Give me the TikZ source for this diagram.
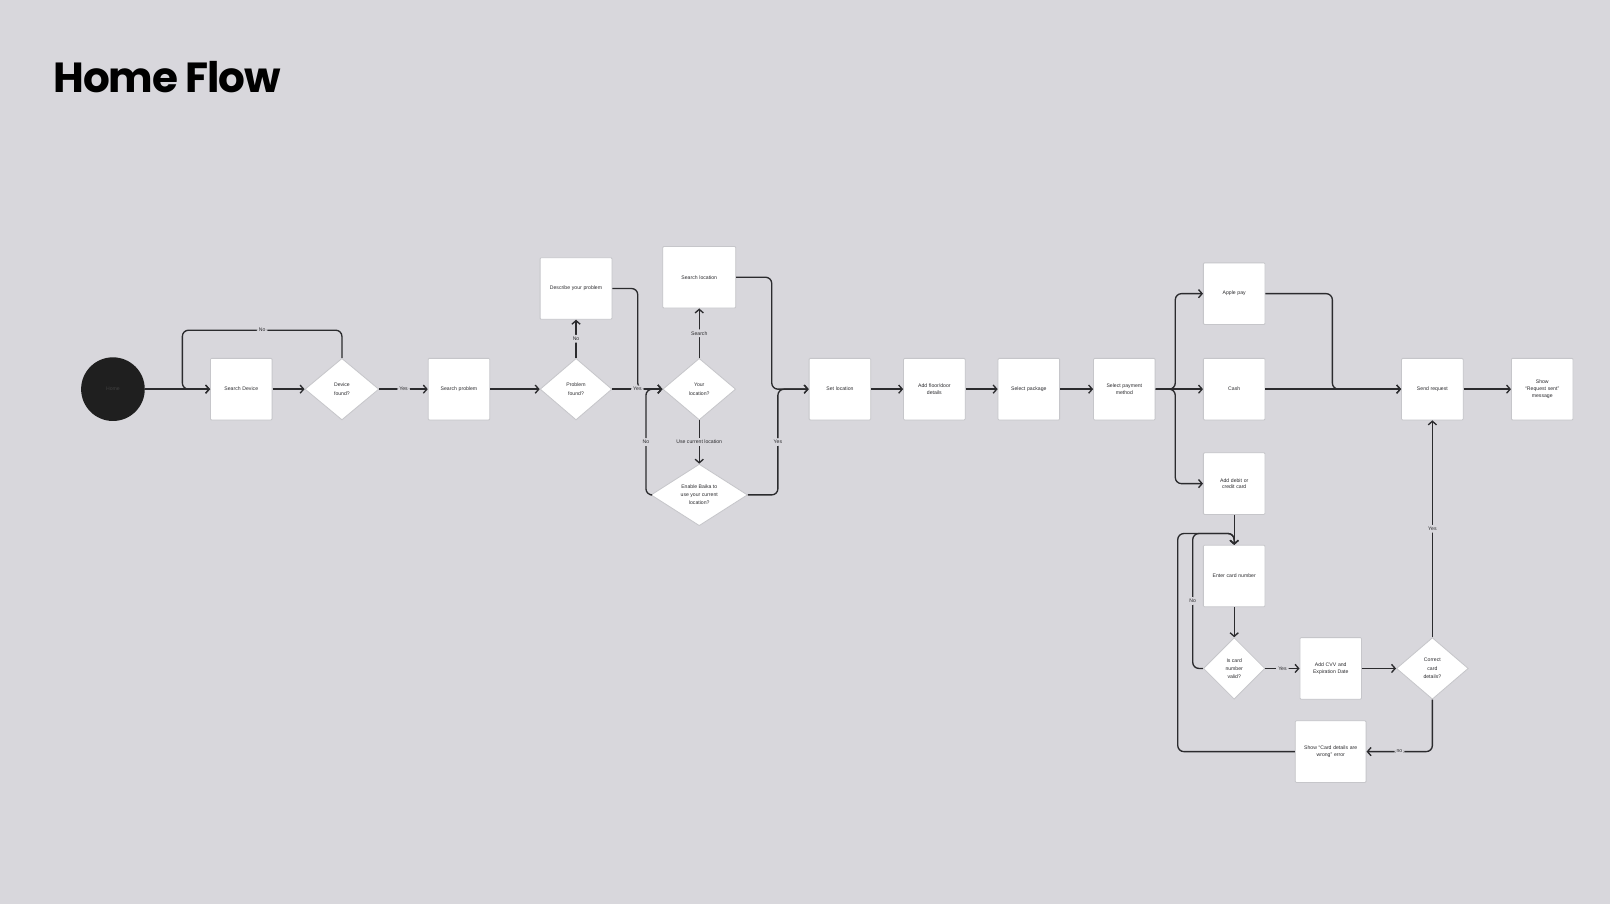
\documentclass[tikz,border=0pt]{standalone}
\usepackage{fontspec}
\setmainfont{Liberation Sans}
\newfontfamily\titlefont[LetterSpace=-3]{Poppins}
\usepackage{tikz}
\usetikzlibrary{shapes.geometric,arrows.meta}
\definecolor{bgc}{HTML}{D8D7DC}
\definecolor{linec}{HTML}{2B2B2E}
\definecolor{edgec}{HTML}{C6C6CA}
\tikzset{node distance=92pt,
  box/.style={draw=edgec, fill=white, line width=0.8pt, rounded corners=1pt,
    minimum width=60pt, minimum height=60pt, text width=52pt, align=center,
    inner sep=0pt, font=\fontsize{5}{6.5}\selectfont, text=linec},
  dia/.style={diamond, aspect=1, draw=edgec, fill=white, line width=0.8pt,
    minimum width=72pt, minimum height=60pt, inner sep=0pt, align=center,
    font=\fontsize{5}{8}\selectfont, text=linec},
  lbl/.style={fill=bgc, inner sep=2pt, font=\fontsize{5}{6}\selectfont, text=linec},
  flow/.style={draw=linec, line width=1.3pt, rounded corners=6pt,
    -{Straight Barb[length=3.5pt, width=8pt]}}}

\begin{document}
\begin{tikzpicture}[x=1pt, y=-1pt]
   \fill[bgc] (0,0) rectangle (1568,880);
   \node(title) [anchor=west, inner sep=0pt, font=\titlefont\bfseries\fontsize{41}{47}\selectfont] at (52,75) {Home Flow};
   % main row
   \node(1) [circle, fill=black!88, minimum size=62pt, text=black!75, font=\fontsize{5}{6}\selectfont] at (110,379) {Home};
   \node(2) [box, right of=1, node distance=125pt] {Search Device};
   \node(3) [dia, right of=2, node distance=98pt] {Device\\found?};
   \node(4) [box, right of=3, node distance=114pt] {Search problem};
   \node(5) [dia, right of=4, node distance=114pt, minimum width=70pt] {Problem\\found?};
   \node(6) [box, above of=5, node distance=98pt, minimum width=70pt, text width=64pt] {Describe your problem};
   \node(7) [dia, right of=5, node distance=120pt, minimum width=71pt] {Your\\location?};
   \node(8) [box, above of=7, node distance=109pt, minimum width=71pt] {Search location};
   \node(9) [dia, below of=7, node distance=103pt, minimum width=94pt] {Enable Baika to\\use your current\\location?};
   \node(10) [box, right of=7, node distance=137pt] {Set location};
   \node(11) [box, right of=10] {Add floor/door\\details};
   \node(12) [box, right of=11] {Select package};
   \node(13) [box, right of=12, node distance=93pt] {Select payment\\method};
   % payment
   \node(14) [box, right of=13, node distance=107pt] {Cash};
   \node(15) [box, above of=14, node distance=93pt] {Apple pay};
   \node(16) [box, below of=14, node distance=92pt] {Add debit or\\credit card};
   \node(17) [box, right of=14, node distance=193pt] {Send request};
   \node(18) [box, right of=17, node distance=107pt] {Show\\``Request sent''\\message};
   % card
   \node(19) [box, below of=16, node distance=90pt] {Enter card number};
   \node(20) [dia, below of=19, node distance=90pt, minimum width=60pt] {Is card\\number\\valid?};
   \node(21) [box, right of=20, node distance=94pt] {Add CVV and\\Expiration Date};
   \node(22) [dia, right of=21, node distance=99pt, minimum width=70pt] {Correct\\card\\details?};
   \node(23) [box, below of=21, node distance=81pt, minimum width=69pt, text width=64pt] {Show ``Card details are\\wrong'' error};

   \draw[flow] (1) -- (2);
   \draw[flow] (3.north) -- ++(0,-27) -| node[lbl, pos=.25] {No} ([xshift=-27pt]2.west) -- (2.west);
   \draw[flow] (2) -- (3);
   \draw[flow] (3) -- node[lbl] {Yes} (4);
   \draw[flow] (4) -- (5);
   \draw[flow] (5) -- node[lbl] {No} (6);
   \draw[flow] (6.east) -| ([xshift=-24pt]7.west) -- (7.west);
   \draw[flow] (9.west) -| node[lbl, pos=.75] {No} ([xshift=-16pt]7.west) -- (7.west);
   \draw[flow] (5) -- node[lbl] {Yes} (7);
   \draw[flow] (7) -- node[lbl] {Search} (8);
   \draw[flow] (7) -- node[lbl] {Use current location} (9);
   \draw[flow] (8.east) -| ([xshift=-36pt]10.west) -- (10.west);
   \draw[flow] (9.east) -| node[lbl, pos=.75] {Yes} ([xshift=-30pt]10.west) -- (10.west);
   \draw[flow] (10) -- (11);
   \draw[flow] (11) -- (12);
   \draw[flow] (12) -- (13);
   \draw[flow] (13.east) -| ([xshift=-27pt]15.west) -- (15.west);
   \draw[flow] (13.east) -| ([xshift=-27pt]16.west) -- (16.west);
   \draw[flow] (13) -- (14);
   \draw[flow] (15.east) -| ([xshift=-67pt]17.west) -- (17.west);
   \draw[flow] (14) -- (17);
   \draw[flow] (17) -- (18);
   \draw[flow] (16) -- (19);
   \draw[flow] (19) -- (20);
   \draw[flow] (20.west) -- ++(-10,0) |- node[lbl, pos=.25] {No} ([yshift=11pt]19.north) -- (19.north);
   \draw[flow] (23.west) -| ([xshift=-55pt, yshift=11pt]19.north) -| (19.north);
   \draw[flow] (20) -- node[lbl] {Yes} (21);
   \draw[flow] (21) -- (22);
   \draw[flow] (22) -- node[lbl] {Yes} (17);
   \draw[flow] (22.south) |- node[lbl, pos=.75] {no} (23.east);
\end{tikzpicture}
\end{document}
